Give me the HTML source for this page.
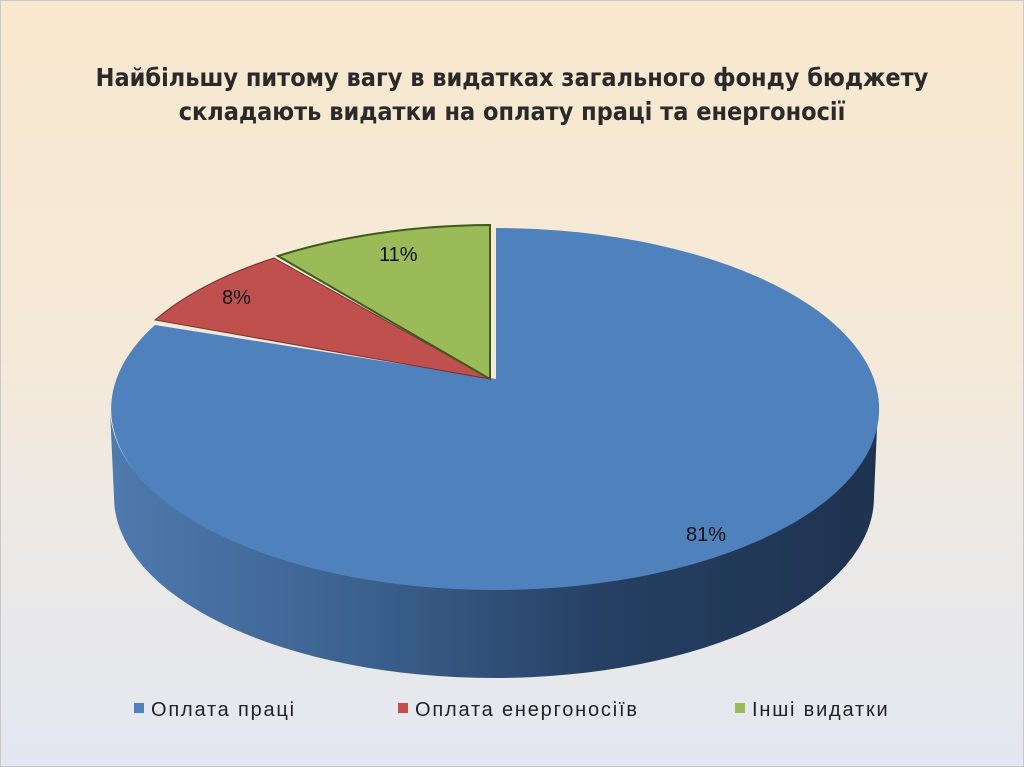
<!DOCTYPE html>
<html><head><meta charset="utf-8"><style>
body{margin:0;width:1024px;height:767px;overflow:hidden;font-family:"Liberation Sans",sans-serif;}
.bg{position:absolute;left:0;top:0;width:1022px;height:765px;border:1px solid #c8c8c8;background:linear-gradient(#f8e8cf 0%,#f5e9d8 45%,#eae9e8 75%,#e3e7f0 100%);}
</style></head><body><div class="bg"></div>
<svg width="1024" height="767" style="position:absolute;left:0;top:0">
<defs>
<linearGradient id="side" x1="0" x2="1" y1="0" y2="0">
<stop offset="0" stop-color="#4f7aae"/><stop offset="0.35" stop-color="#3a5f8c"/><stop offset="0.65" stop-color="#253f62"/><stop offset="1" stop-color="#1f3350"/></linearGradient>
</defs>
<text x="512" y="86" text-anchor="middle" font-size="25" font-weight="bold" fill="#2a2a2a" style="font-family:'DejaVu Sans Condensed','Liberation Sans',sans-serif">Найбільшу питому вагу в видатках загального фонду бюджету</text>
<text x="512" y="120" text-anchor="middle" font-size="25" font-weight="bold" fill="#2a2a2a" style="font-family:'DejaVu Sans Condensed','Liberation Sans',sans-serif">складають видатки на оплату праці та енергоносії</text>
<path d="M110,410 L114,497 A380,181 0 0 0 874,497 L878,405 A384,181 0 0 1 110,410 Z" fill="url(#side)"/>
<path d="M496,379 L496,228 A384,181 0 1 1 155,325 Z" fill="#4f81bd"/>
<path d="M490,379 L155,320 A384,181 0 0 1 274,258 Z" fill="#c0504d" stroke="#7a2f2d" stroke-width="1"/>
<path d="M490,379 L278,256 A384,181 0 0 1 490,225 Z" fill="#9bbb59" stroke="#3f5a1e" stroke-width="2"/>
<g font-size="20" fill="#111">
<text x="379" y="261">11%</text><text x="222" y="304">8%</text><text x="686" y="541">81%</text></g>
<g font-size="20" fill="#222" letter-spacing="1.8">
<rect x="134" y="703" width="10" height="10" fill="#4f81bd"/><text x="151" y="716">Оплата праці</text>
<rect x="398" y="703" width="10" height="10" fill="#c0504d"/><text x="415" y="716">Оплата енергоносіїв</text>
<rect x="735" y="703" width="10" height="10" fill="#9bbb59"/><text x="752" y="716">Інші видатки</text></g>
</svg></body></html>
